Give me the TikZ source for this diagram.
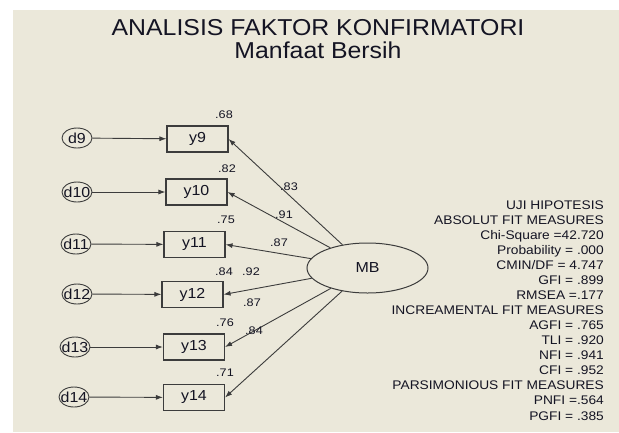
\documentclass[tikz,border=0pt]{standalone}
\usepackage{fontspec}
\setmainfont{Liberation Sans}[FakeStretch=1.1]
\newfontfamily\titlef{Liberation Sans}[FakeStretch=1.08]
\newfontfamily\labf{Liberation Sans}[FakeStretch=1.15]
\usetikzlibrary{shapes.geometric,arrows.meta}
\definecolor{bg}{RGB}{235,232,218}
\definecolor{ink}{RGB}{20,20,35}
\definecolor{ln}{RGB}{60,60,60}
\tikzset{
  errv/.style={ellipse,draw=ln,line width=0.9pt,minimum width=30pt,minimum height=20pt,inner xsep=-3pt,inner ysep=0pt,text=ink,font=\fontsize{14.5}{14.5}\selectfont},
  obsv/.style={rectangle,draw=ln,line width=1.1pt,minimum width=61pt,minimum height=26pt,inner sep=0pt,text=ink,font=\fontsize{14.5}{14.5}\selectfont},
  latv/.style={ellipse,draw=ln,line width=1pt,minimum width=121pt,minimum height=50pt,inner sep=0pt,text=ink,font=\fontsize{14.5}{14.5}\selectfont},
  arr/.style={draw=ln,line width=0.9pt,-{Latex[length=7pt,width=5pt]}},
  coef/.style={text=ink,inner sep=0pt,font=\labf\fontsize{11}{11}\selectfont},
  fit/.style={anchor=base east,text=ink,inner sep=0pt,font=\fontsize{12.5}{12.5}\selectfont},
  ttl/.style={anchor=base,text=ink,inner sep=0pt,font=\titlef\fontsize{23}{23}\selectfont}
}
\begin{document}
\begin{tikzpicture}[x=1pt,y=-1pt]
\useasboundingbox (0,0) rectangle (619,432);
\fill[bg] (13,10) rectangle (619,432);
\node[ttl] (t1) at (318,35.5) {ANALISIS FAKTOR KONFIRMATORI};
\node[ttl] (t2) at (318,58) {Manfaat Bersih};
% error terms
\node[errv] (d9) at (77,138) {d9};
\node[errv] (d10) at (77,192) {d10};
\node[errv] (d11) at (76,244) {d11};
\node[errv] (d12) at (77,294) {d12};
\node[errv] (d13) at (75,347) {d13};
\node[errv] (d14) at (74,397) {d14};
% observed
\node[obsv] (y9) at (197.5,139) {y9};
\node[obsv] (y10) at (196.5,192) {y10};
\node[obsv] (y11) at (194.5,244.5) {y11};
\node[obsv] (y12) at (192.5,294.5) {y12};
\node[obsv] (y13) at (194,347) {y13};
\node[obsv] (y14) at (194,397.5) {y14};
% latent
\node[latv] (MB) at (367.5,268) {MB};
% arrows
\foreach \i in {9,...,14} {
  \draw[arr] (d\i) -- (y\i);
  \draw[arr] (MB) -- (y\i.east);
}
% squared multiple correlations
\node[coef] (r9) at (224,115) {.68};
\node[coef] (r10) at (227,169) {.82};
\node[coef] (r11) at (226,220) {.75};
\node[coef] (r12) at (224,272) {.84};
\node[coef] (r13) at (225,323) {.76};
\node[coef] (r14) at (225,373) {.71};
% loadings
\node[coef] (l9) at (289,187) {.83};
\node[coef] (l10) at (284,215) {.91};
\node[coef] (l11) at (279,243) {.87};
\node[coef] (l12) at (251,272) {.92};
\node[coef] (l13) at (252,303) {.87};
\node[coef] (l14) at (254,331) {.84};
% fit measures
\node[fit] (f1) at (604,209) {UJI HIPOTESIS};
\node[fit] (f2) at (604,224.07) {ABSOLUT FIT MEASURES};
\node[fit] (f3) at (604,239.14) {Chi-Square =42.720};
\node[fit] (f4) at (604,254.21) {Probability = .000};
\node[fit] (f5) at (604,269.28) {CMIN/DF = 4.747};
\node[fit] (f6) at (604,284.35) {GFI = .899};
\node[fit] (f7) at (604,299.42) {RMSEA =.177};
\node[fit] (f8) at (604,314.49) {INCREAMENTAL FIT MEASURES};
\node[fit] (f9) at (604,329.56) {AGFI = .765};
\node[fit] (f10) at (604,344.63) {TLI = .920};
\node[fit] (f11) at (604,359.70) {NFI = .941};
\node[fit] (f12) at (604,374.77) {CFI = .952};
\node[fit] (f13) at (604,389.84) {PARSIMONIOUS FIT MEASURES};
\node[fit] (f14) at (604,404.91) {PNFI =.564};
\node[fit] (f15) at (604,420) {PGFI = .385};
\end{tikzpicture}
\end{document}
